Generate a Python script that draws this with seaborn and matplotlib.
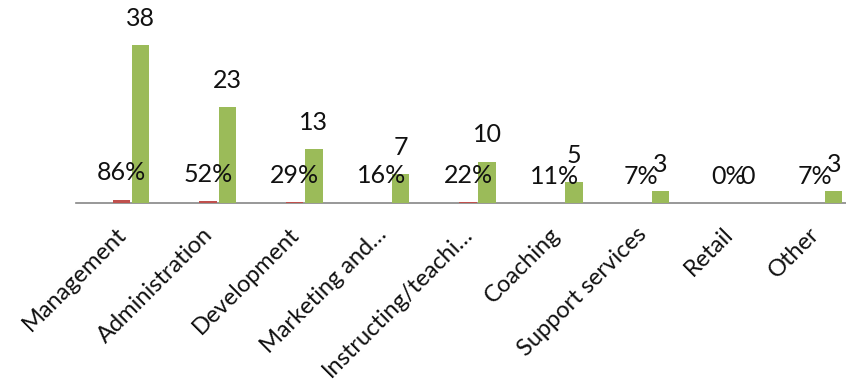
import matplotlib
matplotlib.use("Agg")
import matplotlib.pyplot as plt
import matplotlib.transforms as mtrans
import seaborn as sns
import pandas as pd

categories = ["Management", "Administration", "Development", "Marketing and\u2026",
              "Instructing/teachi\u2026", "Coaching", "Support services", "Retail", "Other"]
percent_share = [0.86, 0.52, 0.29, 0.16, 0.22, 0.11, 0.07, 0.00, 0.07]
counts = [38, 23, 13, 7, 10, 5, 3, 0, 3]
series_names = ["Percent", "Count"]
colors = ["#C0504D", "#9BBB59"]

df = pd.DataFrame({
    "category": categories * 2,
    "series": [series_names[0]] * len(categories) + [series_names[1]] * len(categories),
    "value": percent_share + counts,
})

sns.set_theme(style="white")
plt.rcParams["font.family"] = ["Lato", "DejaVu Sans"]

W, H = 846, 385
fig = plt.figure(figsize=(W / 100, H / 100), dpi=100)
ax_left, ax_right = 76, 846
ax_base = 203.3
ax = fig.add_axes([ax_left / W, (H - ax_base) / H, (ax_right - ax_left) / W, ax_base / H])

sns.barplot(data=df, x="category", y="value", hue="series", palette=colors,
            width=0.44, gap=0.09, ax=ax, legend=False, saturation=1, linewidth=0)

spacing = 86.66
c0 = 131.0
ax.set_xlim((ax_left - c0) / spacing, (ax_right - c0) / spacing)
ax.set_ylim(0, ax_base / 4.166)

for s in ["top", "right", "left"]:
    ax.spines[s].set_visible(False)
ax.spines["bottom"].set_color("#868686")
ax.spines["bottom"].set_linewidth(1.2)
ax.spines["bottom"].set_zorder(0.5)
ax.set_yticks([])
ax.set_xlabel("")
ax.set_ylabel("")
ax.tick_params(axis="x", length=0, pad=20)
ax.set_xticks(range(len(categories)))
ax.set_xticklabels(categories, rotation=45, ha="right", va="center",
                   rotation_mode="anchor", fontsize=17, color="#111111")
shift = mtrans.ScaledTranslation(-8 / 100, 0, fig.dpi_scale_trans)
for lab in ax.get_xticklabels():
    lab.set_transform(lab.get_transform() + shift)

# value labels
for cont, fmt in zip(ax.containers, [lambda v: f"{int(round(v * 100))}%", lambda v: f"{int(v)}"]):
    labels = [fmt(v) for v in cont.datavalues]
    ax.bar_label(cont, labels=labels, padding=11, fontsize=18, color="#111111", clip_on=False)

fig.savefig("out.png", dpi=100)
